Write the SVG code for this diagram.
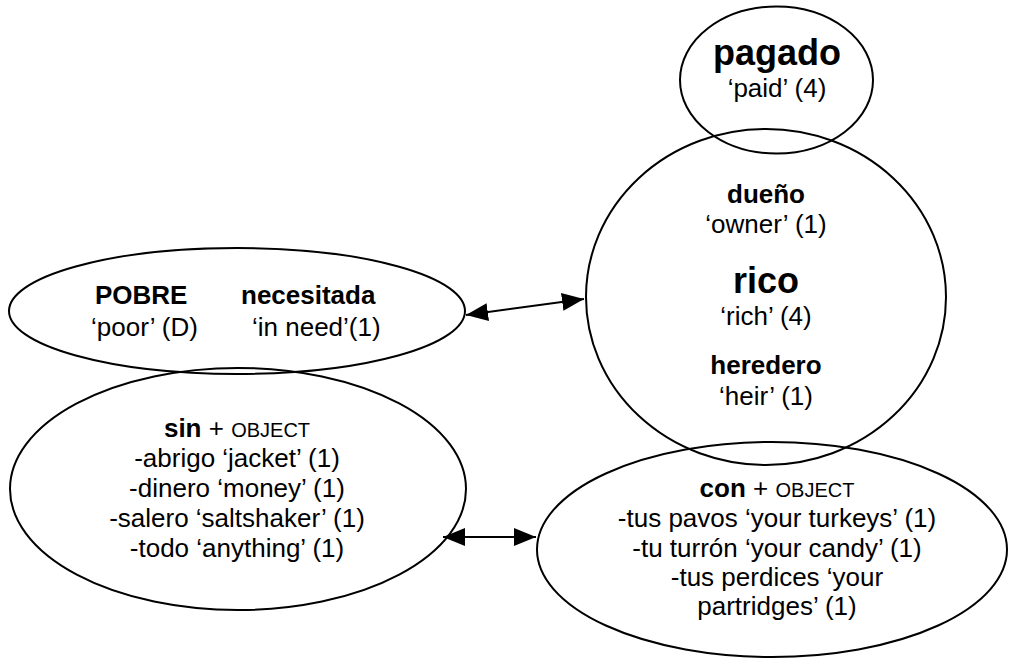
<svg xmlns="http://www.w3.org/2000/svg" width="1009" height="658" viewBox="0 0 1009 658">
<style>
  .shape { fill: none; stroke: #000; stroke-width: 2; }
  .t { font-family: "Liberation Sans", Arial, sans-serif; font-size: 26px; fill: #000; }
  .c { text-anchor: middle; }
  .b { font-weight: bold; }
  .big { font-size: 36px; font-weight: bold; }
  .sc { font-size: 20px; }
  .conn { stroke: #000; stroke-width: 2; fill: none; marker-start: url(#ah); marker-end: url(#ah); }
</style>
<defs>
  <marker id="ah" viewBox="0 0 22 18" refX="22" refY="9" markerWidth="22" markerHeight="18" markerUnits="userSpaceOnUse" orient="auto-start-reverse">
    <path d="M0,0 L22,9 L0,18 z" fill="#000"/>
  </marker>
</defs>
<rect width="1009" height="658" fill="#fff"/>

<g id="pagado">
  <ellipse class="shape" cx="776.5" cy="80" rx="96.5" ry="73.5"/>
  <text class="t big c" x="777" y="65">pagado</text>
  <text class="t c" x="777" y="97">‘paid’ (4)</text>
</g>

<g id="rico">
  <ellipse class="shape" cx="766" cy="297" rx="180" ry="168"/>
  <text class="t b c" x="766" y="203">dueño</text>
  <text class="t c" x="766" y="233">‘owner’ (1)</text>
  <text class="t big c" x="766" y="293">rico</text>
  <text class="t c" x="766" y="325">‘rich’ (4)</text>
  <text class="t b c" x="766" y="374">heredero</text>
  <text class="t c" x="766" y="405">‘heir’ (1)</text>
</g>

<g id="pobre">
  <ellipse class="shape" cx="237" cy="311" rx="228" ry="63"/>
  <text class="t b" x="95" y="304">POBRE</text>
  <text class="t" x="91" y="336">‘poor’ (D)</text>
  <text class="t b" x="241" y="304">necesitada</text>
  <text class="t" x="252" y="336">‘in need’(1)</text>
</g>

<g id="sin">
  <ellipse class="shape" cx="238" cy="489" rx="228" ry="121"/>
  <text class="t c" x="237" y="437"><tspan class="b">sin</tspan> + <tspan class="sc">OBJECT</tspan></text>
  <text class="t c" x="237" y="467">-abrigo ‘jacket’ (1)</text>
  <text class="t c" x="237" y="497">-dinero ‘money’ (1)</text>
  <text class="t c" x="237" y="527">-salero ‘saltshaker’ (1)</text>
  <text class="t c" x="237" y="557">-todo ‘anything’ (1)</text>
</g>

<g id="con">
  <ellipse class="shape" cx="772" cy="549.5" rx="235" ry="107.5"/>
  <text class="t c" x="777" y="497"><tspan class="b">con</tspan> + <tspan class="sc">OBJECT</tspan></text>
  <text class="t c" x="777" y="527">-tus pavos ‘your turkeys’ (1)</text>
  <text class="t c" x="777" y="557">-tu turrón ‘your candy’ (1)</text>
  <text class="t c" x="777" y="586">-tus perdices ‘your</text>
  <text class="t c" x="777" y="615">partridges’ (1)</text>
</g>

<g id="connectors">
  <line class="conn" x1="466" y1="315" x2="584" y2="299"/>
  <line class="conn" x1="443" y1="537" x2="536" y2="537"/>
</g>
</svg>
